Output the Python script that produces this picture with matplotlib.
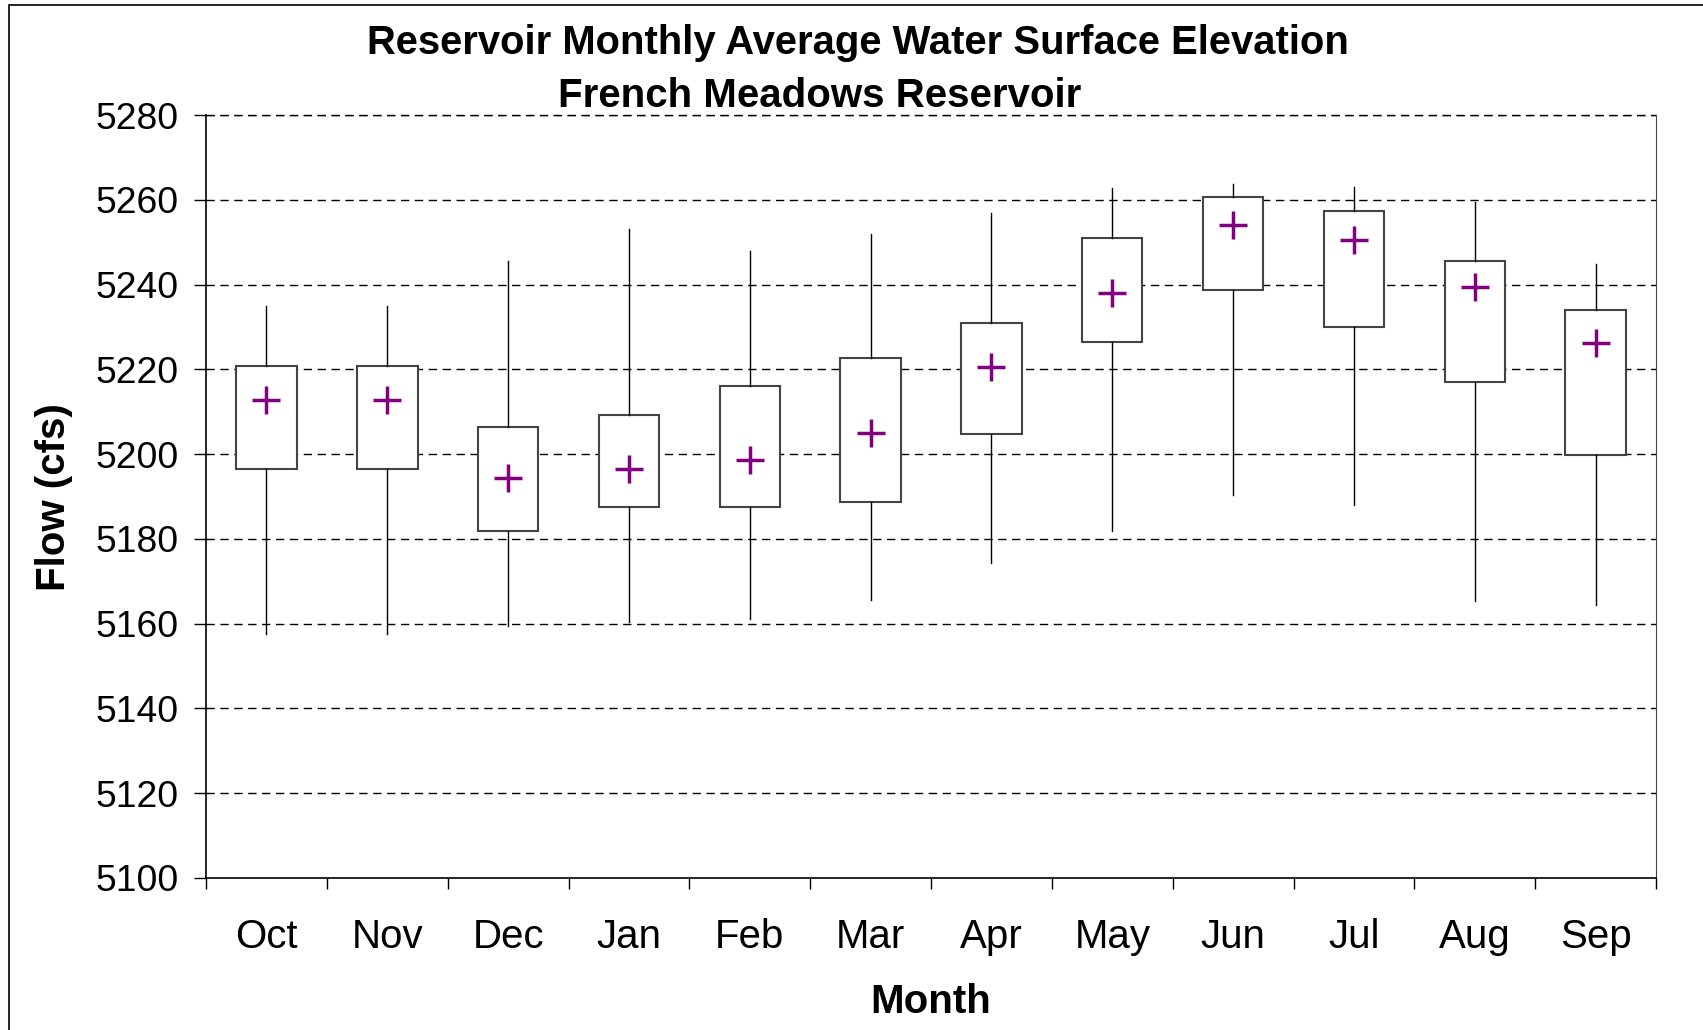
import matplotlib
matplotlib.use("Agg")
import matplotlib.pyplot as plt
from matplotlib.patches import Rectangle

plt.rcParams['font.family'] = ['Liberation Sans', 'DejaVu Sans']

# 月份及各月统计值
months = ['Oct', 'Nov', 'Dec', 'Jan', 'Feb', 'Mar', 'Apr', 'May', 'Jun', 'Jul', 'Aug', 'Sep']
whisker_hi = [5235.0, 5235.0, 5245.5, 5253.1, 5248.0, 5252.0, 5256.9, 5262.7, 5263.7, 5263.0, 5259.4, 5244.9]
q3 = [5220.9, 5220.9, 5206.5, 5209.3, 5216.0, 5222.6, 5230.9, 5251.1, 5260.6, 5257.4, 5245.6, 5234.0]
means = [5212.8, 5212.8, 5194.4, 5196.5, 5198.5, 5204.9, 5220.5, 5238.1, 5254.0, 5250.5, 5239.4, 5226.2]
q1 = [5196.5, 5196.5, 5181.9, 5187.5, 5187.5, 5188.6, 5204.8, 5226.5, 5238.8, 5230.1, 5217.1, 5199.9]
whisker_lo = [5157.5, 5157.5, 5159.4, 5160.3, 5161.1, 5165.7, 5174.2, 5181.9, 5190.3, 5188.0, 5165.4, 5164.3]
yticks = [5100, 5120, 5140, 5160, 5180, 5200, 5220, 5240, 5260, 5280]

stats = []
for i in range(len(months)):
    stats.append({'whislo': whisker_lo[i], 'q1': q1[i], 'med': q1[i], 'q3': q3[i],
                  'whishi': whisker_hi[i], 'mean': means[i], 'fliers': [], 'label': months[i]})

fig = plt.figure(figsize=(17.03, 10.30), dpi=100)
ax = fig.add_axes([0.121, 0.1476, 0.8514, 0.7407])

# 网格线
for yv in yticks[1:]:
    ax.axhline(yv, color='black', lw=1.0, ls=(0, (6, 4)), zorder=0)

pos = list(range(1, len(months) + 1))
ax.bxp(stats, positions=pos, widths=0.5, showmeans=True, showcaps=False, showfliers=False,
       patch_artist=True,
       boxprops=dict(facecolor='white', edgecolor='#444444', lw=1.5),
       whiskerprops=dict(color='black', lw=1.0),
       medianprops=dict(visible=False),
       meanprops=dict(marker='+', markeredgecolor='#800080', markersize=20, markeredgewidth=2.5))

ax.set_xlim(0.5, len(months) + 0.5)
ax.set_ylim(5100, 5280)
ax.set_yticks(yticks)
ax.set_yticklabels([str(v) for v in yticks], fontsize=26.8)
ax.tick_params(axis='y', direction='out', length=9, width=1, pad=11)

ax.set_xticks([p - 0.5 for p in pos] + [len(months) + 0.5])
ax.set_xticklabels([])
ax.set_xticks(pos, minor=True)
ax.set_xticklabels(months, minor=True, fontsize=29)
ax.tick_params(axis='x', which='major', direction='out', length=8, width=1)
ax.tick_params(axis='x', which='minor', length=0, pad=29)

ax.spines['top'].set_visible(False)
ax.spines['right'].set_color('#444444')
ax.spines['left'].set_linewidth(1.2)
ax.spines['bottom'].set_linewidth(1.2)
ax.axhline(5280, color='black', lw=1.0, ls=(0, (6, 4)), clip_on=False)

fig.text(0.504, 0.958, 'Reservoir Monthly Average Water Surface Elevation',
         ha='center', va='center', fontsize=28.8, fontweight='bold')
fig.text(0.4815, 0.907, 'French Meadows Reservoir',
         ha='center', va='center', fontsize=29, fontweight='bold')
fig.text(0.0317, 0.517, 'Flow (cfs)', rotation=90, ha='center', va='center',
         fontsize=29, fontweight='bold')
fig.text(0.5466, 0.027, 'Month', ha='center', va='center', fontsize=29, fontweight='bold')

# 外框
fig.patches.append(Rectangle((0.0053, -0.05), 1.2, 1.0448, transform=fig.transFigure,
                             fill=False, edgecolor='black', lw=1.2))

fig.savefig('out.png', dpi=100)
